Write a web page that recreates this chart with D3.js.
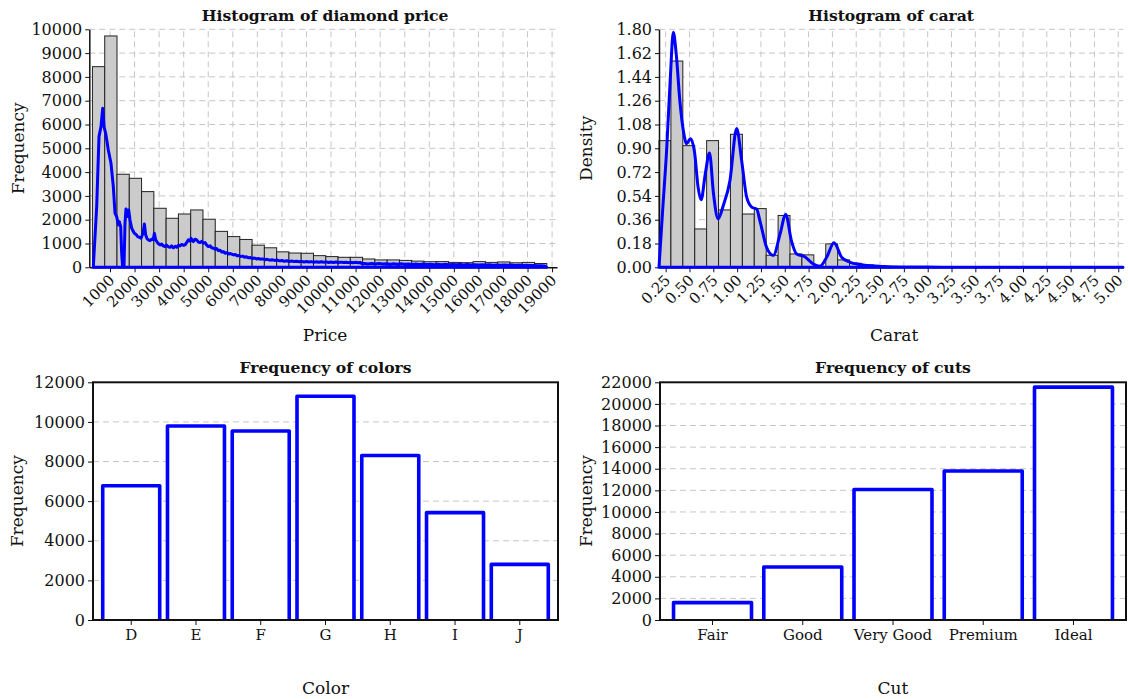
<!DOCTYPE html>
<html><head><meta charset="utf-8">
<script src="https://cdn.jsdelivr.net/npm/d3@7"></script>
<style>
body{margin:0;background:#fff;}
svg{display:block;font-family:"DejaVu Serif",serif;}
svg text{font-family:"DejaVu Serif",serif;}
</style></head><body>
<svg id="c" width="1128" height="699"></svg>
<script>
// ---- Price histogram (bins of 500) ----
const priceBinStart = 285;
const priceBinWidth = 500;
const priceCounts = [8430, 9720, 3910, 3740, 3180, 2480, 2060, 2240, 2410, 2020, 1510, 1290, 1170,
  930, 820, 650, 600, 590, 490, 450, 420, 420, 350, 310, 310, 290, 260, 235, 240, 205, 195, 240,
  205, 225, 190, 205, 160];
const priceXTicks = d3.range(1000, 19001, 1000);
const priceYTicks = d3.range(0, 10001, 1000);
// fine-grained frequency trace drawn over the price histogram: [price, frequency]
const priceLine = [
  [320,0],[458,2550],[552,5490],[633,5910],[702,6680],[755,5910],[824,5630],[931,4930],[1040,4370],
  [1135,3390],[1203,2270],[1272,2130],[1340,1780],[1380,1920],[1435,1710],[1475,590],[1515,0],[1570,0],
  [1610,1850],[1651,2450],[1706,2130],[1760,2410],[1815,1990],[1883,1640],[1940,1520],[1992,1430],
  [2060,1380],[2127,1290],[2200,1260],[2263,1220],[2345,1430],[2400,1820],[2453,1360],[2510,1200],
  [2562,1150],[2630,1120],[2698,1180],[2760,1160],[2806,1430],[2860,1150],[2950,1010],[3036,940],
  [3100,980],[3170,900],[3240,870],[3300,930],[3380,860],[3443,840],[3510,900],[3579,820],[3650,880],
  [3715,840],[3790,930],[3851,900],[3920,960],[4000,920],[4054,940],[4120,1040],[4190,1150],[4250,1100],
  [4300,1220],[4350,1120],[4394,1080],[4460,1180],[4530,1150],[4600,1060],[4666,1040],[4730,1090],
  [4800,1010],[4870,1040],[4940,930],[5005,870],[5080,900],[5140,820],[5210,800],[5280,760],[5340,790],
  [5410,700],[5480,720],[5550,640],[5620,660],[5685,590],[5760,620],[5830,560],[5900,580],[5955,550],
  [6030,520],[6100,540],[6180,480],[6250,500],[6320,450],[6400,470],[6480,420],[6560,440],[6640,400],
  [6720,410],[6800,370],[6880,390],[6960,350],[7040,370],[7120,340],[7200,355],[7300,320],[7400,335],
  [7500,300],[7600,315],[7700,290],[7800,305],[7900,270],[8000,285],[8100,255],[8200,275],[8300,245],
  [8400,265],[8500,240],[8600,255],[8700,230],[8800,250],[8900,225],[9000,240],[9100,220],[9200,238],
  [9300,215],[9400,235],[9500,212],[9600,230],[9700,210],[9800,228],[9900,205],[10000,225],[10100,205],
  [10200,222],[10300,200],[10400,218],[10500,198],[10600,216],[10700,196],[10800,214],[10900,195],
  [11000,212],[11100,194],[11200,205],[11250,150],[11350,160],[11500,140],[11650,158],[11800,138],
  [11950,155],[12100,135],[12250,150],[12400,130],[12550,148],[12700,128],[12850,145],[13000,125],
  [13150,140],[13300,122],[13450,138],[13600,118],[13750,134],[13900,115],[14050,130],[14200,112],
  [14350,127],[14500,110],[14650,124],[14800,106],[14950,120],[15100,104],[15250,118],[15400,100],
  [15550,115],[15700,98],[15850,112],[16000,95],[16150,108],[16300,92],[16450,105],[16600,90],
  [16750,102],[16900,86],[17050,98],[17200,84],[17350,95],[17500,80],[17650,90],[17800,76],[17950,85],
  [18100,72],[18250,80],[18400,66],[18550,70],[18700,50],[18780,0]
];

// ---- Carat histogram (density) ----
const caratBinStart = 0.18;
const caratBinWidth = 0.125;
const caratDensity = [0.958, 1.560, 0.920, 0.290, 0.958, 0.434, 1.006, 0.403, 0.444, 0.091,
  0.392, 0.101, 0.094, 0.005, 0.177, 0.056, 0.030, 0.018, 0.012, 0.008,
  0.005, 0.003, 0.002, 0.003, 0.001, 0.001, 0.0005, 0.0005, 0.0005, 0,
  0, 0.0005, 0, 0, 0, 0, 0, 0, 0.0005];
const caratXTicks = d3.range(1, 21).map(i => i * 0.25);
const caratYTicks = d3.range(0, 11).map(i => i * 0.18);
const caratKdeX = [0.18, 0.22, 0.26, 0.30, 0.33, 0.36, 0.40, 0.435, 0.47, 0.51, 0.555, 0.59, 0.622,
  0.666, 0.71, 0.752, 0.80, 0.855, 0.925, 0.995, 1.047, 1.10, 1.153, 1.205, 1.24, 1.31, 1.38, 1.45,
  1.51, 1.57, 1.625, 1.71, 1.80, 1.87, 1.94, 2.017, 2.097, 2.186, 2.29, 2.40, 2.53, 2.71, 3.0, 3.3,
  4.0, 5.05];
const caratKdeY = [0, 0.45, 0.885, 1.45, 1.777, 1.62, 1.25, 1.036, 0.935, 0.973, 0.86, 0.607, 0.51,
  0.708, 0.865, 0.556, 0.367, 0.468, 0.657, 1.05, 0.81, 0.53, 0.455, 0.44, 0.35, 0.15, 0.09, 0.25,
  0.40, 0.20, 0.10, 0.08, 0.025, 0.008, 0.076, 0.185, 0.076, 0.038, 0.022, 0.012, 0.006, 0.002,
  0.002, 0, 0, 0];

// ---- Colour and cut counts ----
const colorCats = ["D", "E", "F", "G", "H", "I", "J"];
const colorCounts = [6775, 9797, 9542, 11292, 8304, 5422, 2808];
const colorYTicks = d3.range(0, 12001, 2000);
const cutCats = ["Fair", "Good", "Very Good", "Premium", "Ideal"];
const cutCounts = [1610, 4906, 12082, 13791, 21551];
const cutYTicks = d3.range(0, 22001, 2000);

const svg = d3.select("#c");
const FONT = '"DejaVu Serif", serif';
const GRID = "#c6c6c6", DASH = "6,4", BLUE = "#0000ff", INK = "#111";

function styleAxis(g, size) {
  g.attr("font-family", FONT).attr("font-size", size);
  g.selectAll("text").attr("fill", INK).style("font-family", FONT);
  g.selectAll("line").attr("stroke", INK);
  g.select(".domain").attr("stroke", INK).attr("stroke-width", 1.5);
}

function histogramPanel(o) {
  const g = svg.append("g");
  const x = d3.scaleLinear().domain(o.xDomain).range(o.xRange);
  const y = d3.scaleLinear().domain(o.yDomain).range(o.yRange);
  const [xl, xr] = o.xRange, [yb, yt] = o.yRange;

  // dashed grid
  g.append("g").selectAll("line").data(o.xTicks).join("line")
    .attr("x1", d => x(d)).attr("x2", d => x(d)).attr("y1", yb).attr("y2", yt)
    .attr("stroke", GRID).attr("stroke-dasharray", DASH);
  g.append("g").selectAll("line").data(o.yTicks.slice(1)).join("line")
    .attr("x1", xl).attr("x2", xr).attr("y1", d => y(d)).attr("y2", d => y(d))
    .attr("stroke", GRID).attr("stroke-dasharray", DASH);

  // bars
  g.append("g").selectAll("rect").data(o.values).join("rect")
    .attr("x", (d, i) => x(o.binStart + i * o.binWidth))
    .attr("width", (d, i) => x(o.binStart + (i + 1) * o.binWidth) - x(o.binStart + i * o.binWidth))
    .attr("y", d => y(d)).attr("height", d => y(0) - y(d))
    .attr("fill", "#cbcbcb").attr("stroke", "#222").attr("stroke-width", 1);

  // axes
  const gx = g.append("g").attr("transform", `translate(0,${yb})`)
    .call(d3.axisBottom(x).tickValues(o.xTicks).tickFormat(o.xFmt).tickSize(5).tickSizeOuter(0));
  styleAxis(gx, 15);
  gx.selectAll("text").attr("y", 0).attr("dy", 0)
    .attr("transform", "translate(5,14) rotate(-45)").style("text-anchor", "end");
  const gy = g.append("g").attr("transform", `translate(${xl},0)`)
    .call(d3.axisLeft(y).tickValues(o.yTicks).tickFormat(o.yFmt).tickSize(4).tickSizeOuter(0));
  styleAxis(gy, 16);

  // overlay curve, closed along the baseline
  const line = d3.line().x(d => x(d[0])).y(d => y(d[1])).curve(o.curve);
  g.append("path").attr("d", line(o.points) + "Z")
    .attr("fill", "none").attr("stroke", BLUE).attr("stroke-width", 3).attr("stroke-linejoin", "round");

  // titles
  const cx = (xl + xr) / 2;
  g.append("text").attr("x", cx + o.titleShift).attr("y", 21).attr("text-anchor", "middle")
    .attr("font-weight", "bold").attr("font-size", 15.6).attr("fill", INK).text(o.title);
  g.append("text").attr("x", cx + o.xLabelShift).attr("y", 341).attr("text-anchor", "middle")
    .attr("font-size", 17).attr("fill", INK).text(o.xLabel);
  g.append("text").attr("transform", `translate(${o.yLabelX},${(yb + yt) / 2}) rotate(-90)`)
    .attr("text-anchor", "middle").attr("font-size", 17).attr("fill", INK).text(o.yLabel);
}

histogramPanel({
  xDomain: [157, 19200], xRange: [89.3, 557], yDomain: [0, 10000], yRange: [267.3, 29.3],
  xTicks: priceXTicks, yTicks: priceYTicks, xFmt: d3.format("d"), yFmt: d3.format("d"),
  binStart: priceBinStart, binWidth: priceBinWidth, values: priceCounts,
  points: priceLine, curve: d3.curveLinear,
  title: "Histogram of diamond price", titleShift: 2, xLabel: "Price", xLabelShift: 2,
  yLabel: "Frequency", yLabelX: 24
});

histogramPanel({
  xDomain: [0.18, 5.053], xRange: [659, 1123.3], yDomain: [0, 1.8], yRange: [267.3, 29.3],
  xTicks: caratXTicks, yTicks: caratYTicks, xFmt: d3.format(".2f"), yFmt: d3.format(".2f"),
  binStart: caratBinStart, binWidth: caratBinWidth, values: caratDensity,
  points: caratKdeX.map((c, i) => [c, caratKdeY[i]]), curve: d3.curveMonotoneX,
  title: "Histogram of carat", titleShift: 0, xLabel: "Carat", xLabelShift: 3,
  yLabel: "Density", yLabelX: 592
});

function barPanel(o) {
  const g = svg.append("g");
  const [xl, xr] = o.xRange, [yb, yt] = o.yRange;
  const x = d3.scaleBand().domain(o.cats).range(o.xRange).paddingInner(o.pi).paddingOuter(o.po);
  const y = d3.scaleLinear().domain(o.yDomain).range(o.yRange);

  g.append("g").selectAll("line").data(o.yTicks.slice(1, -1)).join("line")
    .attr("x1", xl).attr("x2", xr).attr("y1", d => y(d)).attr("y2", d => y(d))
    .attr("stroke", GRID).attr("stroke-dasharray", DASH);

  g.append("g").selectAll("path").data(o.values).join("path")
    .attr("d", (d, i) => {
      const a = x(o.cats[i]), b = a + x.bandwidth();
      return `M${a},${y(0)}V${y(d)}H${b}V${y(0)}`;
    })
    .attr("fill", "#fff").attr("stroke", BLUE).attr("stroke-width", 3.6).attr("stroke-linejoin", "round");

  const gx = g.append("g").attr("transform", `translate(0,${yb})`)
    .call(d3.axisBottom(x).tickSize(5).tickSizeOuter(0));
  styleAxis(gx, 15);
  gx.selectAll("text").attr("y", 9);
  gx.select(".domain").remove();
  const gy = g.append("g").attr("transform", `translate(${xl},0)`)
    .call(d3.axisLeft(y).tickValues(o.yTicks).tickFormat(d3.format("d")).tickSize(5).tickSizeOuter(0));
  styleAxis(gy, 16);
  gy.select(".domain").remove();

  g.append("rect").attr("x", xl).attr("y", yt).attr("width", xr - xl).attr("height", yb - yt)
    .attr("fill", "none").attr("stroke", INK).attr("stroke-width", 2);

  const cx = (xl + xr) / 2;
  g.append("text").attr("x", cx).attr("y", 373).attr("text-anchor", "middle")
    .attr("font-weight", "bold").attr("font-size", 15.6).attr("fill", INK).text(o.title);
  g.append("text").attr("x", cx).attr("y", 694).attr("text-anchor", "middle")
    .attr("font-size", 17).attr("fill", INK).text(o.xLabel);
  g.append("text").attr("transform", `translate(${o.yLabelX},${(yb + yt) / 2}) rotate(-90)`)
    .attr("text-anchor", "middle").attr("font-size", 17).attr("fill", INK).text("Frequency");
}

barPanel({
  cats: colorCats, values: colorCounts, yTicks: colorYTicks, yDomain: [0, 12000],
  xRange: [93, 558], yRange: [620, 382.3], pi: 0.12, po: 0.15,
  title: "Frequency of colors", xLabel: "Color", yLabelX: 23
});

barPanel({
  cats: cutCats, values: cutCounts, yTicks: cutYTicks, yDomain: [0, 22000],
  xRange: [660, 1126], yRange: [620, 382.3], pi: 0.136, po: 0.15,
  title: "Frequency of cuts", xLabel: "Cut", yLabelX: 592
});
</script>
</body></html>
